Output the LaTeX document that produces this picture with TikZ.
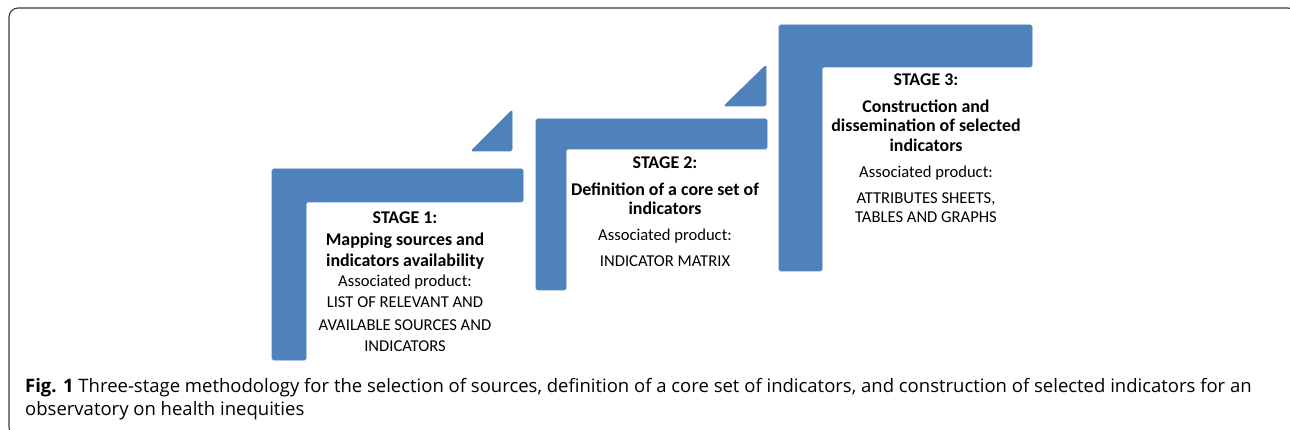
\documentclass[tikz,border=0pt]{standalone}
\usepackage{fontspec}
\setmainfont{Carlito}
\newfontfamily\capfont{Open Sans}
\definecolor{stageblue}{HTML}{4F81BD}
\definecolor{framegray}{HTML}{3A3A3A}
\begin{document}
\begin{tikzpicture}[x=1pt,y=-1pt,
  stepshape/.style={fill=stageblue,draw=stageblue,line width=0.6pt,rounded corners=1.5pt},
  boldtxt/.style={anchor=base,inner sep=0pt,font=\fontsize{17.9}{20}\selectfont\bfseries},
  plaintxt/.style={anchor=base,inner sep=0pt,font=\fontsize{16.6}{19}\selectfont},
  captxt/.style={anchor=base west,inner sep=0pt,font=\capfont\fontsize{18.5}{21}\selectfont}]
\useasboundingbox (0,0) rectangle (1290,430);
\draw[framegray,line width=1.1pt,rounded corners=9pt] (9,8) rectangle (1297,436);
% stage 1
\fill[stepshape] (272,169) -- (523,169) -- (523,202) -- (306,202) -- (306,360) -- (272,360) -- cycle;
\fill[stepshape] (471,151) -- (512,110) -- (512,151) -- cycle;
% stage 2
\fill[stepshape] (536,119) -- (767,119) -- (767,149) -- (566,149) -- (566,290) -- (536,290) -- cycle;
\fill[stepshape] (724,106) -- (766,65) -- (766,106) -- cycle;
% stage 3
\fill[stepshape] (779,25) -- (1032,25) -- (1032,67) -- (822,67) -- (822,271) -- (779,271) -- cycle;
% texts stage 1
\node[boldtxt] (s1a) at (405,223.3) {STAGE 1:};
\node[boldtxt] (s1b) at (405,245.7) {Mapping sources and};
\node[boldtxt] (s1c) at (405,266.7) {indicators availability};
\node[plaintxt] (s1d) at (405,286.7) {Associated product:};
\node[plaintxt] (s1e) at (405,307.7) {LIST OF RELEVANT AND};
\node[plaintxt] (s1f) at (405,330) {AVAILABLE SOURCES AND};
\node[plaintxt] (s1g) at (405,351.7) {INDICATORS};
% texts stage 2
\node[boldtxt] (s2a) at (665,169) {STAGE 2:};
\node[boldtxt] (s2b) at (665,196) {Definition of a core set of};
\node[boldtxt] (s2c) at (665,215) {indicators};
\node[plaintxt] (s2d) at (665,241) {Associated product:};
\node[plaintxt] (s2e) at (665,266.7) {INDICATOR MATRIX};
% texts stage 3
\node[boldtxt] (s3a) at (926,86) {STAGE 3:};
\node[boldtxt] (s3b) at (926,112.7) {Construction and};
\node[boldtxt] (s3c) at (926,132) {dissemination of selected};
\node[boldtxt] (s3d) at (926,151.7) {indicators};
\node[plaintxt] (s3e) at (926,178) {Associated product:};
\node[plaintxt] (s3f) at (926,204) {ATTRIBUTES SHEETS,};
\node[plaintxt] (s3g) at (926,222.7) {TABLES AND GRAPHS};
% caption
\node[captxt] (c1) at (25,392) {\textbf{Fig. 1} Three-stage methodology for the selection of sources, definition of a core set of indicators, and construction of selected indicators for an};
\node[captxt] (c2) at (25,415) {observatory on health inequities};
\end{tikzpicture}
\end{document}
